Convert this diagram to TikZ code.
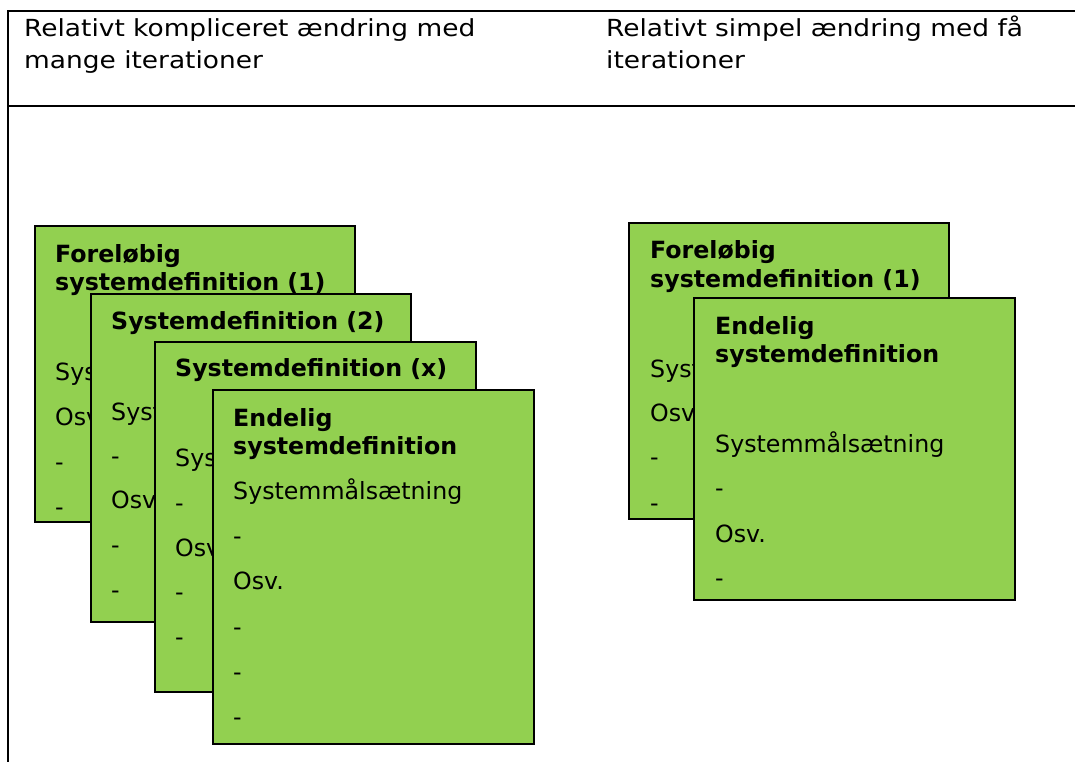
\documentclass[tikz,border=0pt]{standalone}
\usepackage{fontspec}
\setmainfont{DejaVu Sans}
\newfontfamily\hdrfont[FakeStretch=1.124]{DejaVu Sans}
\definecolor{boxgreen}{RGB}{146,208,80}
\begin{document}
\begin{tikzpicture}[x=1pt,y=-1pt,
  box/.style={draw=black, line width=1.8pt, fill=boxgreen, anchor=north west, inner sep=0pt, outer sep=0pt},
  txt/.style={anchor=base west, inner sep=0pt, font=\fontsize{23.7}{28}\selectfont},
  ttl/.style={anchor=base west, inner sep=0pt, font=\fontsize{23.7}{28}\selectfont\bfseries},
  hdr/.style={anchor=base west, inner sep=0pt, font=\hdrfont\fontsize{23.5}{28}\selectfont},
  tablerule/.style={line width=2.2pt}]
\useasboundingbox (0,0) rectangle (1075,762);

% table lines
\coordinate (tl) at (8,11);
\coordinate (tr) at (1075,11);
\coordinate (bl) at (8,762);
\coordinate (hl) at (8,106);
\coordinate (hr) at (1075,106);
\draw[tablerule] (tr) -- (tl) -- (bl);
\draw[tablerule] (hl) -- (hr);

% header texts
\node[hdr] (h1a) at (24,37) {Relativt kompliceret ændring med};
\node[hdr] (h1b) at (24,69) {mange iterationer};
\node[hdr] (h2a) at (606,37) {Relativt simpel ændring med få};
\node[hdr] (h2b) at (606,69) {iterationer};

% ---------- left group ----------
\node[box, minimum width=320pt, minimum height=296pt] (L1) at (35,226) {};
\node[ttl] (L1t1) at ([shift={(20,36)}]L1.north west) {Foreløbig};
\node[ttl] (L1t2) at ([shift={(20,64)}]L1.north west) {systemdefinition (1)};
\node[txt] (L1l1) at ([shift={(20,154)}]L1.north west) {Systemmålsætning};
\node[txt] (L1l2) at ([shift={(20,199)}]L1.north west) {Osv.};
\node[txt] (L1l3) at ([shift={(20,244)}]L1.north west) {-};
\node[txt] (L1l4) at ([shift={(20,289)}]L1.north west) {-};

\node[box, minimum width=320pt, minimum height=328pt] (L2) at (91,294) {};
\node[ttl] (L2t1) at ([shift={(20,35)}]L2.north west) {Systemdefinition (2)};
\node[txt] (L2l1) at ([shift={(20,126)}]L2.north west) {Systemmålsætning};
\node[txt] (L2l2) at ([shift={(20,170)}]L2.north west) {-};
\node[txt] (L2l3) at ([shift={(20,214)}]L2.north west) {Osv.};
\node[txt] (L2l4) at ([shift={(20,259)}]L2.north west) {-};
\node[txt] (L2l5) at ([shift={(20,304)}]L2.north west) {-};

\node[box, minimum width=321pt, minimum height=350pt] (L3) at (155,342) {};
\node[ttl] (L3t1) at ([shift={(20,34)}]L3.north west) {Systemdefinition (x)};
\node[txt] (L3l1) at ([shift={(20,124)}]L3.north west) {Systemmålsætning};
\node[txt] (L3l2) at ([shift={(20,169)}]L3.north west) {-};
\node[txt] (L3l3) at ([shift={(20,214)}]L3.north west) {Osv.};
\node[txt] (L3l4) at ([shift={(20,258)}]L3.north west) {-};
\node[txt] (L3l5) at ([shift={(20,303)}]L3.north west) {-};

\node[box, minimum width=321pt, minimum height=354pt] (L4) at (213,390) {};
\node[ttl] (L4t1) at ([shift={(20,36)}]L4.north west) {Endelig};
\node[ttl] (L4t2) at ([shift={(20,64)}]L4.north west) {systemdefinition};
\node[txt] (L4l1) at ([shift={(20,109)}]L4.north west) {Systemmålsætning};
\node[txt] (L4l2) at ([shift={(20,154)}]L4.north west) {-};
\node[txt] (L4l3) at ([shift={(20,199)}]L4.north west) {Osv.};
\node[txt] (L4l4) at ([shift={(20,245)}]L4.north west) {-};
\node[txt] (L4l5) at ([shift={(20,290)}]L4.north west) {-};
\node[txt] (L4l6) at ([shift={(20,335)}]L4.north west) {-};

% ---------- right group ----------
\node[box, minimum width=320pt, minimum height=296pt] (R1) at (629,223) {};
\node[ttl] (R1t1) at ([shift={(21,35)}]R1.north west) {Foreløbig};
\node[ttl] (R1t2) at ([shift={(21,64)}]R1.north west) {systemdefinition (1)};
\node[txt] (R1l1) at ([shift={(21,154)}]R1.north west) {Systemmålsætning};
\node[txt] (R1l2) at ([shift={(21,198)}]R1.north west) {Osv.};
\node[txt] (R1l3) at ([shift={(21,242)}]R1.north west) {-};
\node[txt] (R1l4) at ([shift={(21,288)}]R1.north west) {-};

\node[box, minimum width=321pt, minimum height=302pt] (R2) at (694,298) {};
\node[ttl] (R2t1) at ([shift={(21,36)}]R2.north west) {Endelig};
\node[ttl] (R2t2) at ([shift={(21,64)}]R2.north west) {systemdefinition};
\node[txt] (R2l1) at ([shift={(21,154)}]R2.north west) {Systemmålsætning};
\node[txt] (R2l2) at ([shift={(21,198)}]R2.north west) {-};
\node[txt] (R2l3) at ([shift={(21,244)}]R2.north west) {Osv.};
\node[txt] (R2l4) at ([shift={(21,288)}]R2.north west) {-};
\end{tikzpicture}
\end{document}
